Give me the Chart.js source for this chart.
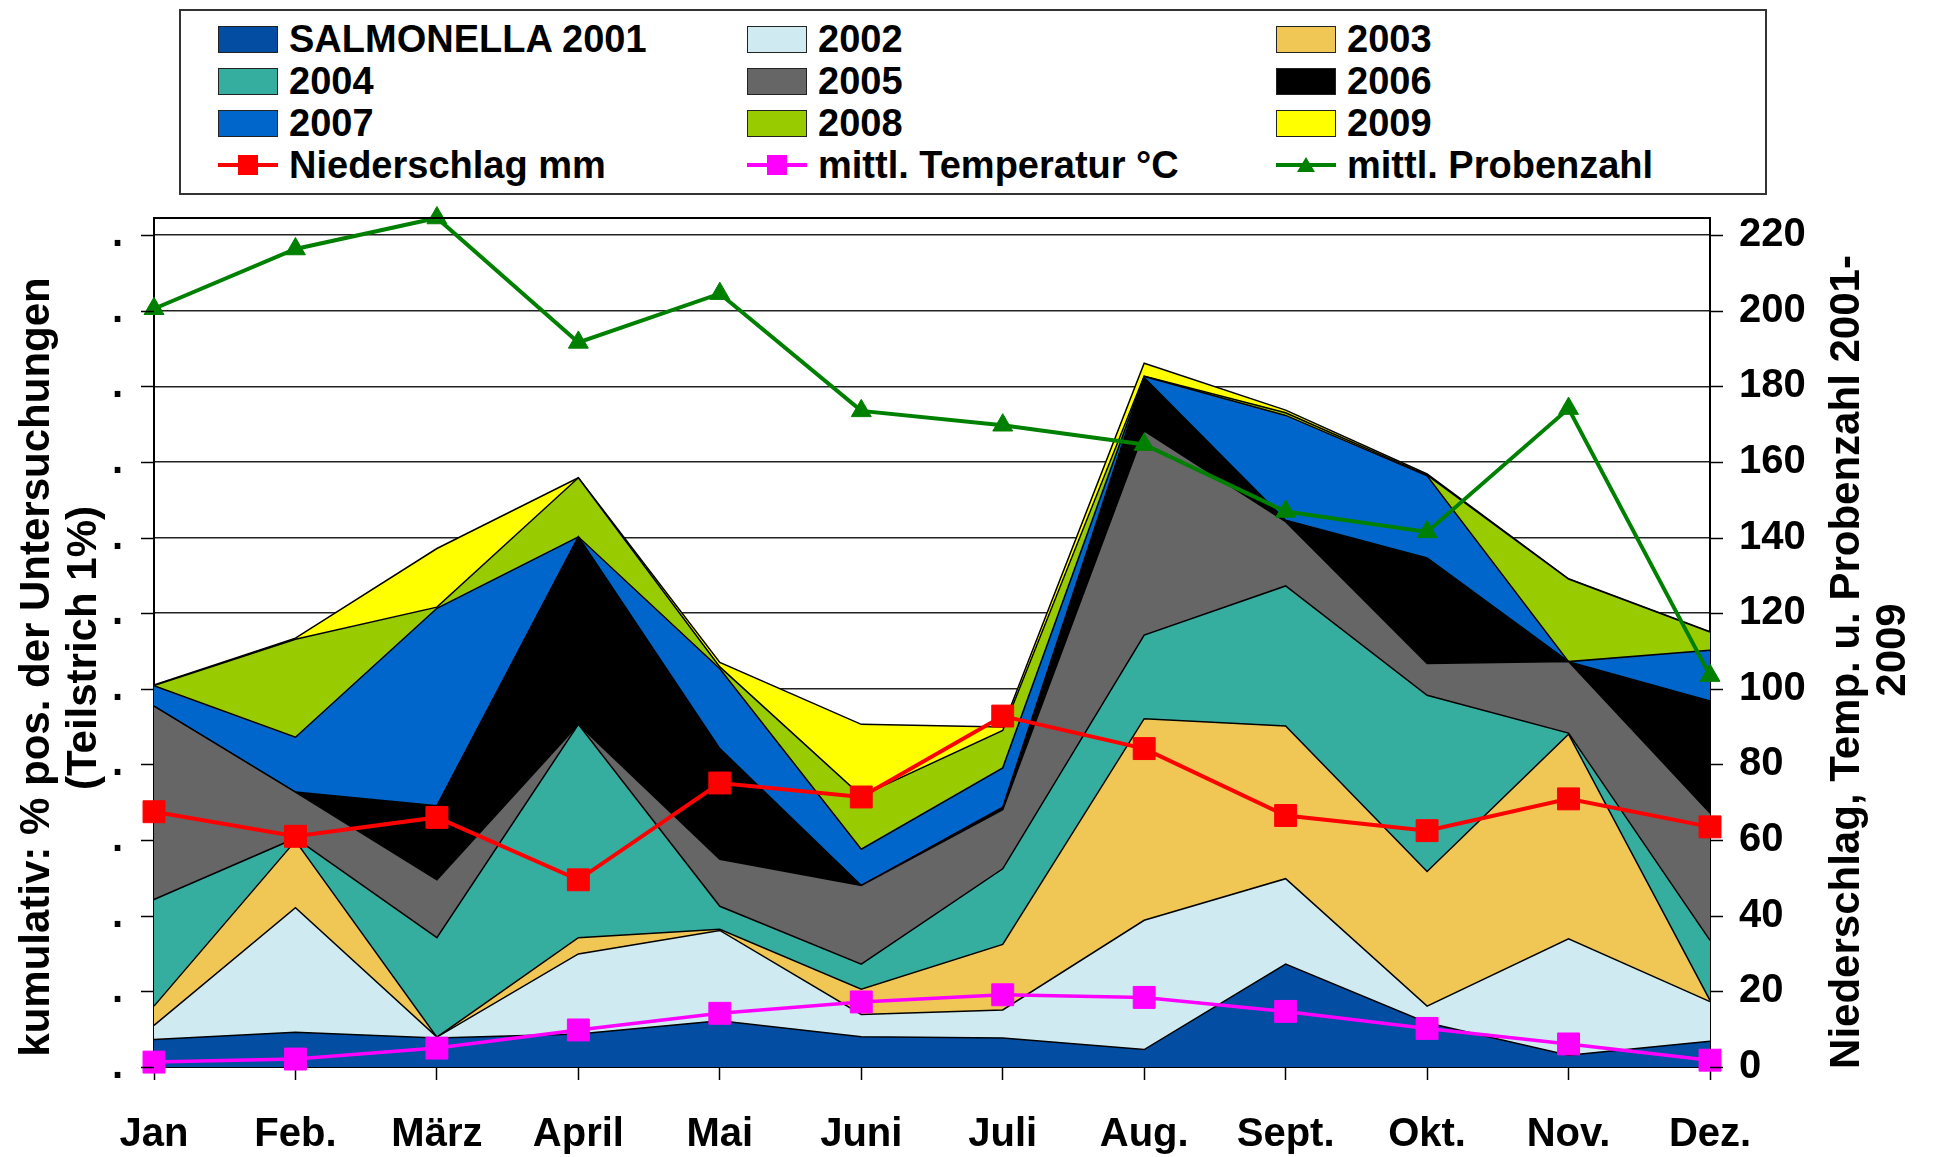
<!DOCTYPE html>
<html><head><meta charset="utf-8">
<script src="https://cdn.jsdelivr.net/npm/chart.js@4"></script>
<style>
html,body{margin:0;padding:0;background:#fff;}
#wrap{position:relative;width:1933px;height:1157px;overflow:hidden;}
#c{position:absolute;left:0;top:0;}
#legend{position:absolute;left:179px;top:9px;width:1584px;height:182px;border:2px solid #333;background:#fff;
  font:bold 38px "Liberation Sans",Arial,sans-serif;color:#000;}
.item{position:absolute;height:40px;display:flex;align-items:center;white-space:nowrap;}
.sw{width:58px;height:25px;border:1.5px solid #222;flex:none;}
.ln{width:60px;height:24px;position:relative;flex:none;}
.txt{margin-left:11px;}
</style></head>
<body><div id="wrap"><canvas id="c" width="1933" height="1157"></canvas><div id="legend"></div></div>
<script>
const months = ['Jan','Feb.','März','April','Mai','Juni','Juli','Aug.','Sept.','Okt.','Nov.','Dez.'];
const seriesNames = ['SALMONELLA 2001','2002','2003','2004','2005','2006','2007','2008','2009'];
const seriesColors = ['#034EA2','#CFEBF1','#F0C655','#35AEA0','#666666','#000000','#0066CC','#99CC00','#FFFF00'];
// cumulative-stack components, % positive
const s2001 = [0.73,0.92,0.77,0.87,1.22,0.80,0.77,0.46,2.72,1.17,0.31,0.68];
const s2002 = [0.37,3.29,0.02,2.12,2.39,0.59,0.74,3.42,2.26,0.44,3.08,1.05];
const s2003 = [0.51,1.77,0.00,0.43,0.03,0.67,1.73,5.33,4.04,3.56,5.41,0.03];
const s2004 = [2.82,0.07,2.63,5.64,0.61,0.66,2.00,2.21,3.70,4.66,0.03,1.59];
const s2005 = [5.11,1.22,1.53,0.00,1.24,2.08,1.56,5.40,1.70,0.84,1.89,3.37];
const s2006 = [0.00,0.00,1.96,4.96,2.93,0.00,0.07,1.41,0.04,2.79,0.00,2.96];
const s2007 = [0.54,1.45,5.22,0.00,2.11,0.96,1.04,0.03,2.77,2.17,0.00,1.34];
const s2008 = [0.01,2.59,0.03,1.56,0.05,1.41,0.99,0.01,0.07,0.02,2.18,0.48];
const s2009 = [0.01,0.03,1.55,0.00,0.12,1.89,0.09,0.34,0.07,0.03,0.01,0.01];
const seriesValues = [s2001,s2002,s2003,s2004,s2005,s2006,s2007,s2008,s2009];
// right axis lines
const niederschlag = [67.5,61.0,66.0,49.5,75.1,71.4,92.8,84.2,66.5,62.5,70.9,63.5];
const temperatur  = [1.3,2.1,5.0,9.8,14.2,17.2,19.1,18.4,14.7,10.2,6.1,1.8];
const probenzahl  = [200.5,216.3,224.5,191.6,204.5,173.5,169.7,164.6,146.9,141.5,174.1,103.5];
const lineNames = ['Niederschlag mm','mittl. Temperatur °C','mittl. Probenzahl'];
const lineColors = ['#FF0000','#FF00FF','#008000'];
const lineStyles = ['rect','rect','triangle'];
const leftTitle = ['kumulativ: % pos. der Untersuchungen','(Teilstrich 1%)'];
const rightTitle = ['Niederschlag, Temp. u. Probenzahl 2001-','2009'];

const FONT = '"Liberation Sans", Arial, sans-serif';

const datasets = [];
seriesValues.forEach((vals,i)=>{
  datasets.push({label:seriesNames[i], data:vals, yAxisID:'y', backgroundColor:seriesColors[i],
    borderColor:'#000', borderWidth:1.5, pointRadius:0, pointHoverRadius:0, tension:0,
    fill: i===0 ? 'origin' : '-1', order:1});
});
[niederschlag,temperatur,probenzahl].forEach((vals,i)=>{
  datasets.push({label:lineNames[i], data:vals, yAxisID:'y2', borderColor:lineColors[i], backgroundColor:lineColors[i],
    borderWidth: i===1 ? 3.5 : 4, pointStyle:lineStyles[i], pointRadius: i===2 ? 11.5 : 15.5,
    pointBorderWidth:1, pointBorderColor:lineColors[i], pointBackgroundColor:lineColors[i],
    fill:false, tension:0, order:0, clip:false});
});

const tickPlugin = {
  id:'tickPlugin',
  afterDraw(chart){
    const ctx = chart.ctx, a = chart.chartArea;
    ctx.save();
    ctx.strokeStyle = '#000'; ctx.lineWidth = 1.5;
    const y = chart.scales.y, y2 = chart.scales.y2;
    y.ticks.forEach(t=>{
      const p = Math.round(y.getPixelForValue(t.value))+0.5;
      const len = (t.value % 2 === 0) ? 13 : 8;
      ctx.beginPath(); ctx.moveTo(a.left, p); ctx.lineTo(a.left-len, p); ctx.stroke();
    });
    y2.ticks.forEach(t=>{
      const p = Math.round(y2.getPixelForValue(t.value))+0.5;
      const len = (t.value % 20 === 0) ? 13 : 8;
      ctx.beginPath(); ctx.moveTo(a.right, p); ctx.lineTo(a.right+len, p); ctx.stroke();
    });
    // top frame line
    ctx.lineWidth = 2;
    ctx.beginPath(); ctx.moveTo(a.left, a.top); ctx.lineTo(a.right, a.top); ctx.stroke();
    // axis titles
    ctx.fillStyle = '#000';
    ctx.font = 'bold 42px ' + FONT;
    ctx.textAlign = 'center'; ctx.textBaseline = 'middle';
    const draw = (t,x,yy)=>{ ctx.save(); ctx.translate(x,yy); ctx.rotate(-Math.PI/2); ctx.fillText(t,0,0); ctx.restore(); };
    draw(leftTitle[0], 37, 667);
    draw(leftTitle[1], 84, 648);
    draw(rightTitle[0], 1847, 662);
    draw(rightTitle[1], 1893, 650);
    ctx.restore();
  }
};

new Chart(document.getElementById('c'), {
  type:'line',
  data:{labels:months, datasets},
  options:{
    responsive:false, animation:false, devicePixelRatio:1,
    layout:{padding:{top:218,left:0,right:0,bottom:0}},
    plugins:{legend:{display:false}, tooltip:{enabled:false}, title:{display:false}},
    scales:{
      x:{type:'category', offset:false,
        grid:{drawOnChartArea:false, drawTicks:true, tickLength:13, tickColor:'#000', tickWidth:1.5},
        border:{display:true, color:'#000', width:2},
        ticks:{color:'#000', font:{family:FONT, size:40, weight:'bold'}, padding:31, maxRotation:0, autoSkip:false},
        afterFit(s){ s.height = 90; }
      },
      y:{type:'linear', position:'left', stacked:true, min:0, max:22.45,
        grid:{color:(c)=> (c.tick && c.tick.value % 2 === 0) ? '#222' : 'rgba(0,0,0,0)', lineWidth:1.5,
              drawTicks:true, tickLength:13, tickColor:'rgba(0,0,0,0)'},
        border:{display:true, color:'#000', width:2},
        ticks:{stepSize:1, includeBounds:false, color:'#000', font:{family:FONT, size:40, weight:'bold'}, padding:18,
          callback:(v)=> (v % 2 === 0) ? '.' : ''},
        afterFit(s){ s.width = 154; }
      },
      y2:{type:'linear', position:'right', min:0, max:224.5,
        grid:{drawOnChartArea:false, drawTicks:true, tickLength:13, tickColor:'rgba(0,0,0,0)'},
        border:{display:true, color:'#000', width:2},
        ticks:{stepSize:10, includeBounds:false, color:'#000', font:{family:FONT, size:40, weight:'bold'}, padding:16,
          callback:(v)=> (v % 20 === 0) ? String(v) : ''},
        afterFit(s){ s.width = 223; }
      }
    }
  },
  plugins:[tickPlugin]
});

// HTML legend built from the same arrays
const leg = document.getElementById('legend');
const allNames = seriesNames.concat(lineNames);
allNames.forEach((name,i)=>{
  const col = i % 3, row = Math.floor(i/3);
  const it = document.createElement('div');
  it.className = 'item';
  it.style.left = (37 + col*529) + 'px';
  it.style.top = (28 + row*42 - 20) + 'px';
  let mk;
  if (i < seriesNames.length) {
    mk = document.createElement('div'); mk.className = 'sw'; mk.style.background = seriesColors[i];
  } else {
    const k = i - seriesNames.length;
    mk = document.createElement('div'); mk.className = 'ln';
    const bar = document.createElement('div');
    bar.style.cssText = 'position:absolute;left:0;top:10px;width:60px;height:4px;background:'+lineColors[k];
    mk.appendChild(bar);
    const m = document.createElement('div');
    if (lineStyles[k] === 'rect') {
      m.style.cssText = 'position:absolute;left:20px;top:2px;width:20px;height:20px;background:'+lineColors[k];
    } else {
      m.style.cssText = 'position:absolute;left:21px;top:4px;width:0;height:0;border-left:9px solid transparent;border-right:9px solid transparent;border-bottom:15px solid '+lineColors[k];
    }
    mk.appendChild(m);
  }
  it.appendChild(mk);
  const tx = document.createElement('span'); tx.className = 'txt'; tx.textContent = name;
  it.appendChild(tx);
  leg.appendChild(it);
});
</script>
</body></html>
